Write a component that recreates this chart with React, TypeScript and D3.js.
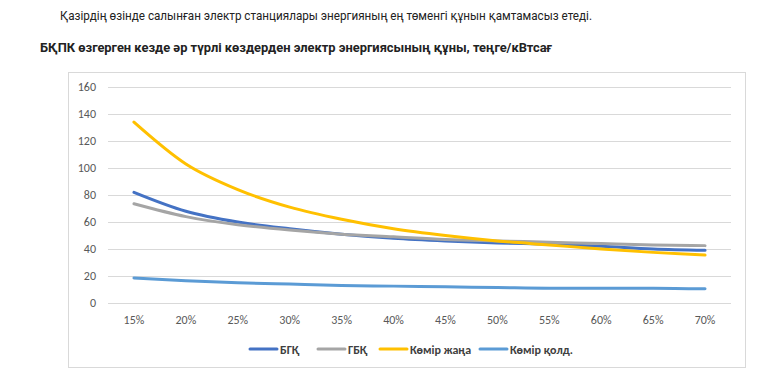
import { useEffect, useRef } from "react";
import * as d3 from "d3";

const categories = ["15%", "20%", "25%", "30%", "35%", "40%", "45%", "50%", "55%", "60%", "65%", "70%"];
const bgk = [82, 68, 60, 55, 51, 48, 46, 44.5, 43.5, 42, 40, 39];
const gbk = [73.5, 64, 58, 54, 51, 49, 47, 46, 45, 44, 43, 42.5];
const komirZhana = [134, 103, 84, 71, 62, 55, 50, 46, 43, 40, 37.5, 35.5];
const komirKold = [18.5, 16.5, 15, 14, 13, 12.5, 12, 11.5, 11, 11, 11, 10.5];
const yTicks = [0, 20, 40, 60, 80, 100, 120, 140, 160];

const seriesNames = ["БГҚ", "ГБҚ", "Көмір жаңа", "Көмір қолд."];
const seriesColors = ["#4472C4", "#A5A5A5", "#FFC000", "#5B9BD5"];

export default function App() {
    const svgRef = useRef<SVGSVGElement>(null);

    useEffect(() => {
        const svg = d3.select(svgRef.current);
        svg.selectAll("*").remove();

        const font = "Calibri, Carlito, 'Open Sans', sans-serif";

        // text above the chart (narrow font in original, squeeze it)
        svg.append("text")
            .attr("x", 60)
            .attr("y", 20)
            .attr("font-family", "Roboto, sans-serif")
            .attr("font-size", 13)
            .attr("fill", "#222")
            .attr("textLength", 532)
            .attr("lengthAdjust", "spacingAndGlyphs")
            .text("Қазірдің өзінде салынған электр станциялары энергияның ең төменгі құнын қамтамасыз етеді.");

        svg.append("text")
            .attr("x", 40)
            .attr("y", 52)
            .attr("font-family", "Roboto, 'Noto Sans', sans-serif")
            .attr("font-weight", "bold")
            .attr("font-size", 12.5)
            .attr("fill", "#222")
            .attr("textLength", 512)
            .attr("lengthAdjust", "spacingAndGlyphs")
            .text("БҚПК өзгерген кезде әр түрлі көздерден электр энергиясының құны, теңге/кВтсағ");

        // chart frame
        svg.append("rect")
            .attr("x", 68.5)
            .attr("y", 72.5)
            .attr("width", 677)
            .attr("height", 295)
            .attr("fill", "white")
            .attr("stroke", "#D9D9D9");

        const x = d3.scaleBand().domain(categories).range([108, 731]);
        const y = d3.scaleLinear().domain([0, 160]).range([303, 87]);

        const grid = svg.append("g");
        yTicks.forEach((t) => {
            grid.append("line")
                .attr("x1", 108)
                .attr("x2", 731)
                .attr("y1", Math.round(y(t)) + 0.5)
                .attr("y2", Math.round(y(t)) + 0.5)
                .attr("stroke", "#D9D9D9");
            grid.append("text")
                .attr("x", 96)
                .attr("y", y(t) + 4)
                .attr("text-anchor", "end")
                .attr("font-family", font)
                .attr("font-size", 12)
                .attr("fill", "#595959")
                .text(t);
        });

        categories.forEach((c) => {
            svg.append("text")
                .attr("x", (x(c) || 0) + x.bandwidth() / 2)
                .attr("y", 324)
                .attr("text-anchor", "middle")
                .attr("font-family", font)
                .attr("font-size", 12)
                .attr("fill", "#595959")
                .text(c);
        });

        const allSeries = [bgk, gbk, komirZhana, komirKold];
        const line = d3
            .line<number>()
            .x((_, i) => (x(categories[i]) || 0) + x.bandwidth() / 2)
            .y((d) => y(d))
            .curve(d3.curveMonotoneX);

        allSeries.forEach((s, i) => {
            svg.append("path")
                .attr("d", line(s) || "")
                .attr("fill", "none")
                .attr("stroke", seriesColors[i])
                .attr("stroke-width", 3)
                .attr("stroke-linecap", "round");
        });

        // legend
        const legendX = [250, 318, 380, 480];
        seriesNames.forEach((name, i) => {
            const g = svg.append("g").attr("transform", `translate(${legendX[i]},349)`);
            g.append("line")
                .attr("x1", 0)
                .attr("x2", 27)
                .attr("stroke", seriesColors[i])
                .attr("stroke-width", 3)
                .attr("stroke-linecap", "round");
            g.append("text")
                .attr("x", 30)
                .attr("y", 4.5)
                .attr("font-family", font)
                .attr("font-size", 12)
                .attr("font-weight", 600)
                .attr("fill", "#404040")
                .text(name);
        });
    }, []);

    return (
        <svg
            ref={svgRef}
            width={772}
            height={371}
            style={{ position: "absolute", left: 0, top: 0, background: "white" }}
        />
    );
}
